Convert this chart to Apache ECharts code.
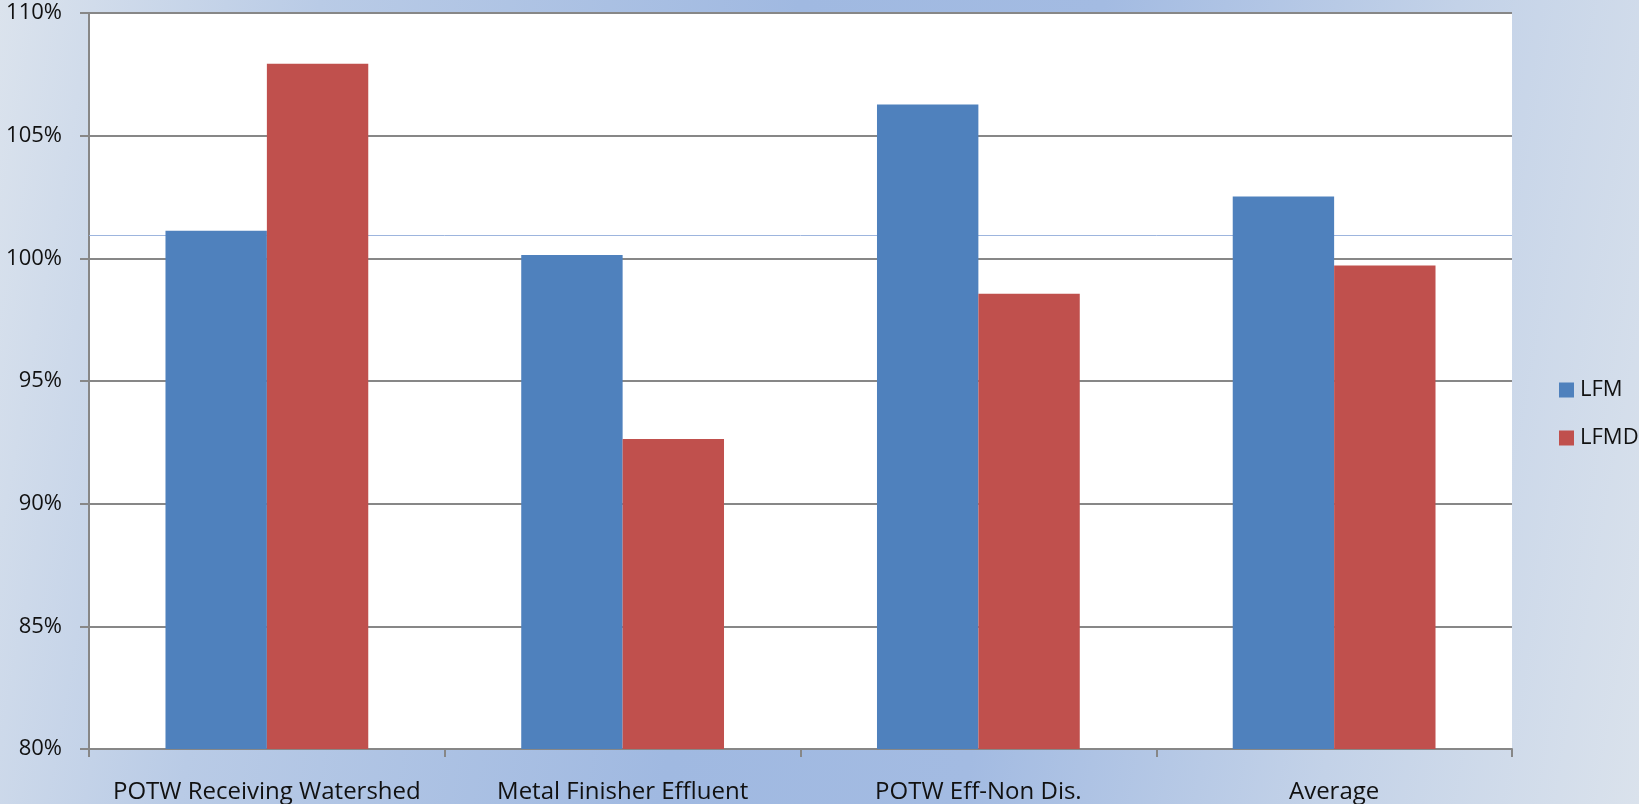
<!DOCTYPE html>
<html>
<head>
<meta charset="utf-8">
<script src="https://cdn.jsdelivr.net/npm/echarts@6/dist/echarts.min.js"></script>
<style>
  html, body { margin: 0; padding: 0; }
  body { width: 1639px; height: 804px; overflow: hidden;
    background: linear-gradient(100deg, #dbe3ed 0%, #b9cbe6 18%, #a0b9e1 45%, #a3bbe2 62%, #c3d2e8 82%, #dae2ec 100%); }
  #chart { width: 1639px; height: 804px; }
</style>
</head>
<body>
<div id="chart"></div>
<script>
const categories = ['POTW Receiving Watershed', 'Metal Finisher Effluent', 'POTW Eff-Non Dis.', 'Average'];
const seriesNames = ['LFM', 'LFMD'];
const lfmValues = [101.12, 100.14, 106.27, 102.52];
const lfmdValues = [107.93, 92.64, 98.56, 99.71];
const referenceLineValue = [100.94];
const yTicks = { min: 80, max: 110, interval: 5 };

const chart = echarts.init(document.getElementById('chart'), null, { renderer: 'canvas' });
const font = 'Open Sans';
chart.setOption({
  backgroundColor: 'transparent',
  animation: false,
  textStyle: { fontFamily: font },
  grid: { left: 89, top: 13, right: 127, bottom: 55, show: true, backgroundColor: '#ffffff', borderWidth: 0 },
  legend: {
    orient: 'vertical', left: 1554, top: 374,
    itemWidth: 15, itemHeight: 15, itemGap: 26,
    icon: 'rect',
    textStyle: { fontFamily: font, fontSize: 22, color: '#111', lineHeight: 22, padding: [0, 0, 0, 1] },
    data: seriesNames
  },
  xAxis: {
    type: 'category', data: categories,
    axisLine: { lineStyle: { color: '#878787', width: 2 } },
    axisTick: { show: true, length: 8, alignWithLabel: false, lineStyle: { color: '#878787', width: 2 } },
    axisLabel: { fontFamily: font, fontSize: 24, color: '#111', margin: 31, interval: 0 },
    splitLine: { show: false }
  },
  yAxis: {
    type: 'value', min: yTicks.min, max: yTicks.max, interval: yTicks.interval,
    axisLine: { show: true, lineStyle: { color: '#878787', width: 2 } },
    axisTick: { show: true, length: 9, lineStyle: { color: '#878787', width: 2 } },
    axisLabel: { fontFamily: font, fontSize: 22, color: '#111', margin: 27, formatter: v => v + '%' },
    splitLine: { show: true, lineStyle: { color: '#878787', width: 2 } }
  },
  series: [
    {
      name: 'ref', type: 'line', data: [], z: 1, silent: true,
      markLine: {
        z: 1, silent: true, symbol: 'none', label: { show: false },
        lineStyle: { color: '#9db5de', width: 1, type: 'solid' },
        data: referenceLineValue.map(v => ({ yAxis: v }))
      }
    },
    { name: seriesNames[0], type: 'bar', data: lfmValues, barGap: '0%', barCategoryGap: '43%', z: 3,
      itemStyle: { color: '#4f81bd' } },
    { name: seriesNames[1], type: 'bar', data: lfmdValues, barGap: '0%', barCategoryGap: '43%', z: 3,
      itemStyle: { color: '#c0504d' } }
  ]
});
</script>
</body>
</html>
